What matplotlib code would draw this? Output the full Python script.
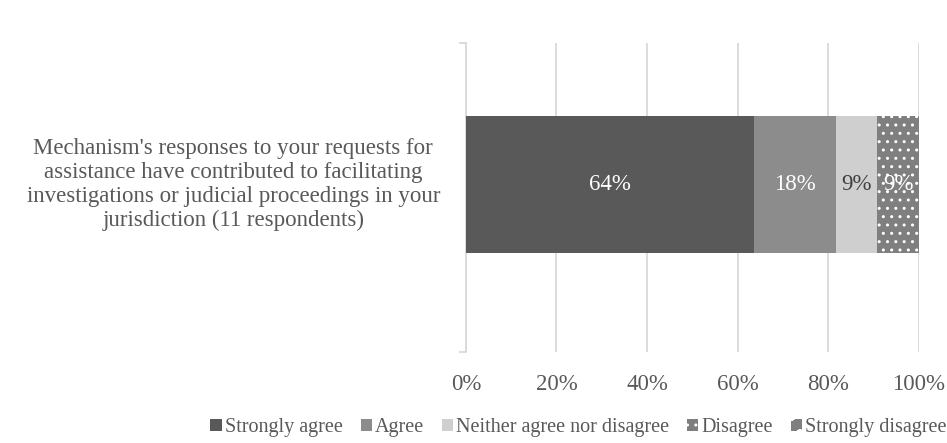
import matplotlib.pyplot as plt
import matplotlib.ticker as mtick
from matplotlib.patches import Patch

plt.rcParams['font.family'] = ['Liberation Serif', 'DejaVu Serif']

# survey data: counts of respondents for each answer
question = ("Mechanism's responses to your requests for\n"
            "assistance have contributed to facilitating\n"
            "investigations or judicial proceedings in your\n"
            "jurisdiction (11 respondents)")
answers = ['Strongly agree', 'Agree', 'Neither agree nor disagree',
           'Disagree', 'Strongly disagree']
counts = [7, 2, 1, 1, 0]
total = 11

colors = ['#595959', '#8c8c8c', '#d0cfd0', '#7f7f7f', '#7f7f7f']
hatches = [None, None, None, '..', 'o']
label_colors = ['white', 'white', '#404040', 'white', 'white']
text_gray = '#595959'
fs = 16.5

if __name__ == "__main__":

    fig = plt.figure(figsize=(9.47, 4.43), dpi=100)
    ax = fig.add_axes([0.492, 0.205, 0.478, 0.698])

    left = 0.0
    for ans, n, c, h, lc in zip(answers, counts, colors, hatches, label_colors):
        share = n / total
        ax.barh(0, share, left=left, height=0.443, color=c, hatch=h,
                edgecolor='white' if h else c, linewidth=0, zorder=3)
        if n > 0:
            ax.text(left + share / 2, 0, f"{round(share * 100)}%", ha='center',
                    va='center', color=lc, fontsize=fs, zorder=4)
        left += share

    ax.set_xlim(0, 1)
    ax.set_ylim(-0.542, 0.458)
    ax.xaxis.set_major_locator(mtick.MultipleLocator(0.2))
    ax.xaxis.set_major_formatter(mtick.PercentFormatter(xmax=1, decimals=0))
    ax.tick_params(axis='x', length=0, pad=16, labelsize=fs, labelcolor=text_gray)
    ax.grid(axis='x', color='#d9d9d9', linewidth=1.3, zorder=0)

    # category axis: ticks only at the band edges
    ax.set_yticks([-0.542, 0.458])
    ax.set_yticklabels([])
    ax.tick_params(axis='y', length=5, width=1.3, color='#d9d9d9')
    ax.text(-0.514, 0, question, transform=ax.get_yaxis_transform(),
            ha='center', va='center', multialignment='center',
            fontsize=fs, color=text_gray, linespacing=1.17)

    for side in ['top', 'right', 'bottom']:
        ax.spines[side].set_visible(False)
    ax.spines['left'].set_color('#d9d9d9')
    ax.spines['left'].set_linewidth(1.3)

    handles = [Patch(facecolor=c, hatch=h, edgecolor='white' if h else c,
                     linewidth=0, label=a)
               for a, c, h in zip(answers, colors, hatches)]
    fig.legend(handles=handles, loc='center', bbox_to_anchor=(0.611, 0.034),
               ncol=5, frameon=False, fontsize=14.5, labelcolor=text_gray,
               handlelength=0.55, handleheight=0.55, handletextpad=0.15,
               columnspacing=0.9)

    fig.savefig("out.png", dpi=100)
